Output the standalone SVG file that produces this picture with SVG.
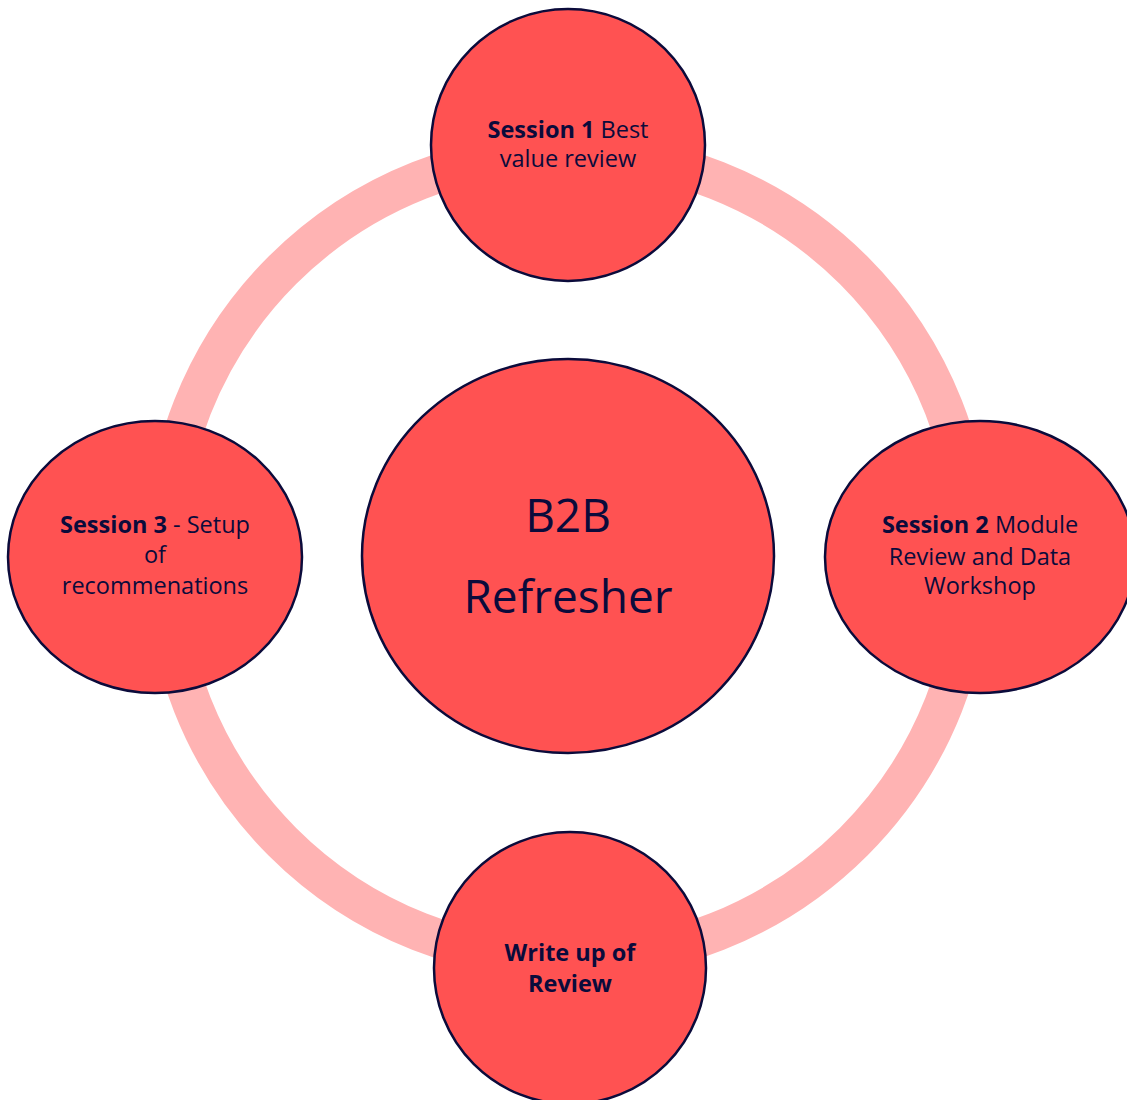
<svg xmlns="http://www.w3.org/2000/svg" width="1127" height="1100" viewBox="0 0 1127 1100">
<style>
.node{fill:#FF5252;stroke:#0B0B3B;stroke-width:2.5}
.t{font-family:"Open Sans",Lato,"Liberation Sans",sans-serif;font-size:23.5px;fill:#0B0B3B;text-anchor:middle}
.b{font-weight:bold}
.big{font-size:46px}
</style>
<g id="connectors">
<circle cx="568" cy="556" r="404" fill="none" stroke="#FFB3B3" stroke-width="39"/>
</g>
<g id="node-top">
<ellipse class="node" cx="568" cy="145" rx="137" ry="136"/>
<text class="t" x="568" y="138"><tspan class="b">Session 1</tspan> Best</text>
<text class="t" x="568" y="167">value review</text>
</g>
<g id="node-left">
<ellipse class="node" cx="155" cy="557" rx="147" ry="136"/>
<text class="t" x="155" y="533"><tspan class="b">Session 3</tspan> - Setup</text>
<text class="t" x="155" y="563">of</text>
<text class="t" x="155" y="594">recommenations</text>
</g>
<g id="node-right">
<ellipse class="node" cx="980" cy="557" rx="155" ry="136"/>
<text class="t" x="980" y="533"><tspan class="b">Session 2</tspan> Module</text>
<text class="t" x="980" y="565">Review and Data</text>
<text class="t" x="980" y="594">Workshop</text>
</g>
<g id="node-bottom">
<ellipse class="node" cx="570" cy="968" rx="136" ry="136"/>
<text class="t b" x="570" y="961">Write up of</text>
<text class="t b" x="570" y="992">Review</text>
</g>
<g id="node-center">
<ellipse class="node" cx="568" cy="556" rx="206" ry="197"/>
<text class="t big" x="568" y="532">B2B</text>
<text class="t big" x="568" y="613">Refresher</text>
</g>
</svg>
